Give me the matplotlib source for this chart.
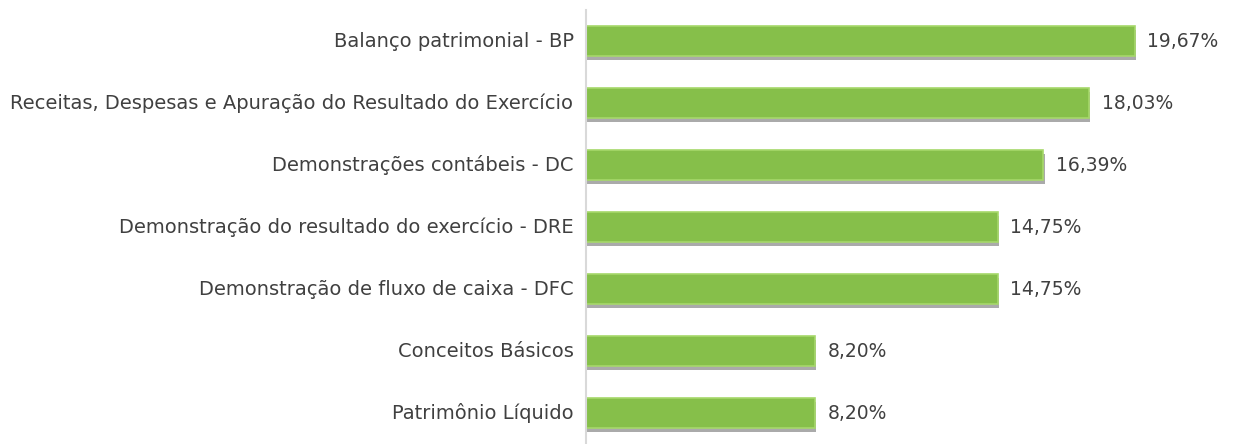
import matplotlib.pyplot as plt
import matplotlib.patheffects as pe
import numpy as np

categorias = ['Balanço patrimonial - BP',
              'Receitas, Despesas e Apuração do Resultado do Exercício',
              'Demonstrações contábeis - DC',
              'Demonstração do resultado do exercício - DRE',
              'Demonstração de fluxo de caixa - DFC',
              'Conceitos Básicos',
              'Patrimônio Líquido']
valores = [19.67, 18.03, 16.39, 14.75, 14.75, 8.20, 8.20]

plt.rcParams['font.family'] = ['DejaVu Sans']

fig = plt.figure(figsize=(12.36, 4.44), dpi=100)
ax = fig.add_axes([586 / 1236, 0, 1 - 586 / 1236, 1 - 10 / 444])

y = np.arange(len(categorias))
bars = ax.barh(y, valores, height=0.48, color='#86bf4a', edgecolor='#a6d86a',
               linewidth=1.2)
for b in bars:
    b.set_path_effects([pe.SimplePatchShadow(offset=(1, -3), shadow_rgbFace='#444444', alpha=0.45),
                        pe.Normal()])

for yi, v in zip(y, valores):
    ax.text(v + 0.45, yi + 0.01, f'{v:.2f}%'.replace('.', ','), va='center', ha='left',
            fontsize=13.5, color='#404040')

ax.set_yticks(y - 0.03)
ax.set_yticklabels(categorias, fontsize=14, color='#404040')
ax.tick_params(axis='y', length=0, pad=9)
ax.set_ylim(len(categorias) - 0.5, -0.5)
ax.set_xlim(0, (1236 - 586) / 27.9)
ax.set_xticks([])
for s in ['top', 'right', 'bottom']:
    ax.spines[s].set_visible(False)
ax.spines['left'].set_color('#d9d9d9')
ax.spines['left'].set_linewidth(1.5)

plt.savefig('out.png')
